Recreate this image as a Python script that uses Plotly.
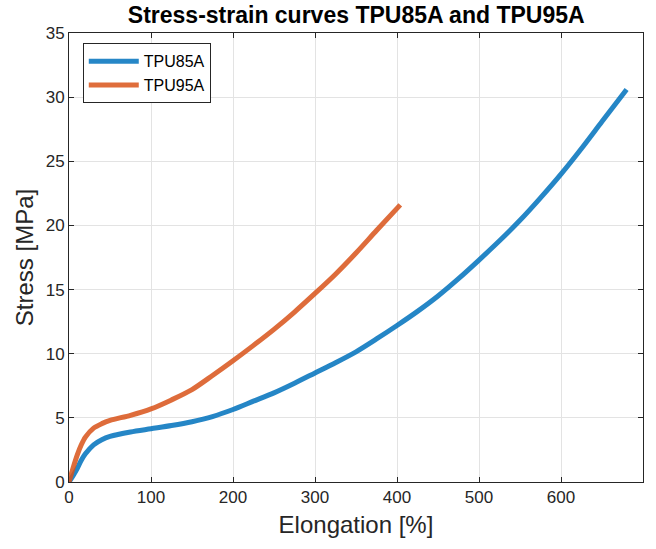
import plotly.graph_objects as go

# Tensile test data: elongation [%] vs. stress [MPa]
tpu85a_elong = [0, 5, 10, 15, 20, 30, 40, 50, 75, 100, 125, 150, 175, 200, 225, 250,
                275, 300, 325, 350, 375, 400, 425, 450, 475, 500, 525, 550, 575,
                600, 625, 650, 680]
tpu85a_stress = [0, 0.5, 1.05, 1.7, 2.2, 2.9, 3.3, 3.55, 3.9, 4.15, 4.4, 4.7, 5.1, 5.65,
                 6.3, 6.95, 7.7, 8.5, 9.3, 10.15, 11.15, 12.2, 13.3, 14.5, 15.85, 17.3,
                 18.8, 20.4, 22.15, 24.0, 26.0, 28.1, 30.6]

tpu95a_elong = [0, 5, 10, 15, 20, 30, 40, 50, 75, 100, 125, 150, 175, 200, 225, 250,
                275, 300, 325, 350, 375, 404]
tpu95a_stress = [0, 1.1, 2.1, 2.9, 3.5, 4.2, 4.55, 4.8, 5.2, 5.7, 6.4, 7.2, 8.3, 9.45,
                 10.65, 11.9, 13.25, 14.7, 16.2, 17.85, 19.6, 21.6]

x_ticks = [0, 100, 200, 300, 400, 500, 600, 700]
y_ticks = [0, 5, 10, 15, 20, 25, 30, 35]

axis_color = "#262626"
grid_color = "#e3e3e3"
font_family = "Liberation Sans, Arial, Helvetica, sans-serif"

fig = go.Figure()
fig.add_trace(go.Scatter(
    x=tpu85a_elong, y=tpu85a_stress, mode="lines", name="TPU85A",
    line=dict(color="#0072BD", width=5, shape="spline", smoothing=0.8),
    opacity=0.85,
))
fig.add_trace(go.Scatter(
    x=tpu95a_elong, y=tpu95a_stress, mode="lines", name="TPU95A",
    line=dict(color="#D95319", width=5, shape="spline", smoothing=0.8),
    opacity=0.85,
))

axis_common = dict(
    showline=True, linecolor=axis_color, linewidth=1, mirror="ticks",
    ticks="inside", ticklen=5, tickcolor=axis_color, tickwidth=1,
    showgrid=True, gridcolor=grid_color, gridwidth=1,
    zeroline=False,
    tickfont=dict(family=font_family, size=17, color=axis_color),
)

fig.update_layout(
    width=656, height=549,
    margin=dict(l=69, r=13, t=33, b=67),
    paper_bgcolor="white", plot_bgcolor="white",
    title=dict(
        text="<b>Stress-strain curves TPU85A and TPU95A</b>",
        x=0.543, xanchor="center", y=0.972, yanchor="middle",
        font=dict(family=font_family, size=23, color="black"),
    ),
    xaxis=dict(
        range=[0, 700], tickvals=x_ticks,
        title=dict(text="Elongation [%]", font=dict(family=font_family, size=24, color=axis_color),
                   standoff=9),
        **axis_common,
    ),
    yaxis=dict(
        range=[0, 35], tickvals=y_ticks,
        title=dict(text="Stress [MPa]", font=dict(family=font_family, size=24, color=axis_color),
                   standoff=5),
        **axis_common,
    ),
    legend=dict(
        x=0.024, y=0.977, xanchor="left", yanchor="top",
        bgcolor="white", bordercolor=axis_color, borderwidth=1,
        font=dict(family=font_family, size=16, color="black"),
        tracegroupgap=0, itemwidth=50,
    ),
    showlegend=True,
)

fig.write_html("out.html")
